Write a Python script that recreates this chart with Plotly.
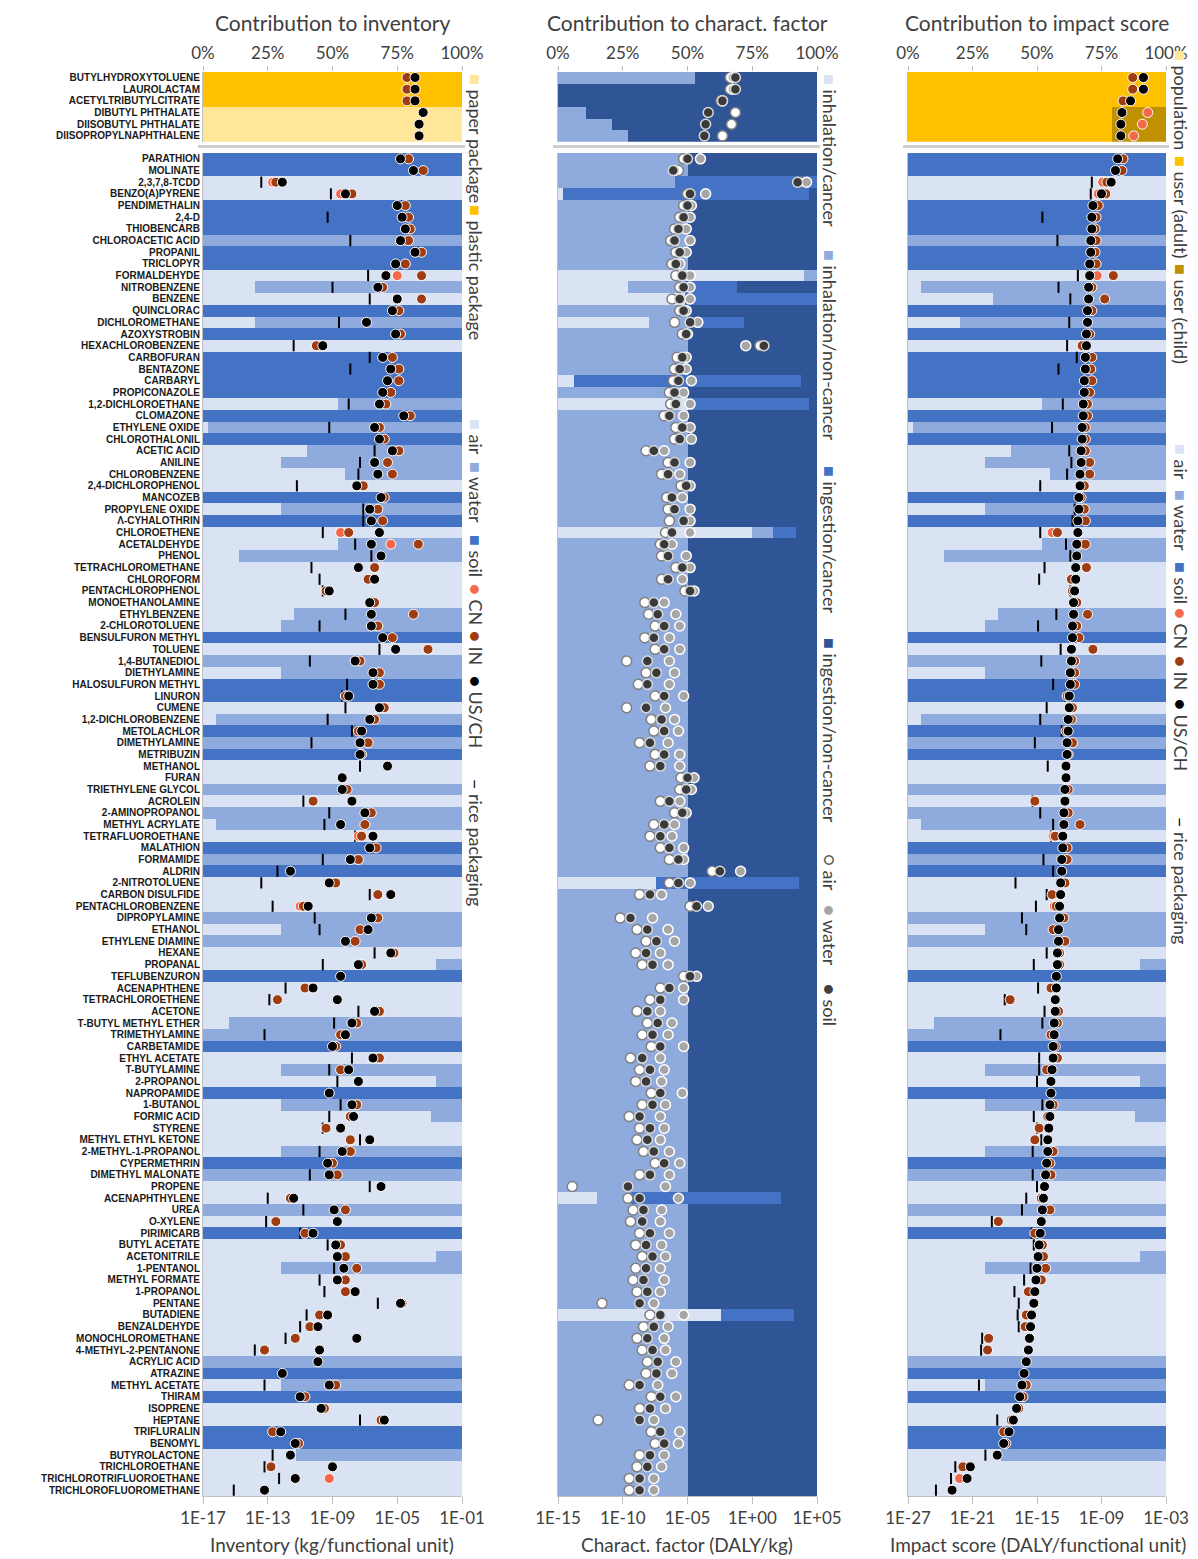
import plotly.graph_objects as go

# ---------------- DATA ----------------
names_top = ["BUTYLHYDROXYTOLUENE", "LAUROLACTAM", "ACETYLTRIBUTYLCITRATE",
             "DIBUTYL PHTHALATE", "DIISOBUTYL PHTHALATE", "DIISOPROPYLNAPHTHALENE"]

names = ["PARATHION", "MOLINATE", "2,3,7,8-TCDD", "BENZO(A)PYRENE", "PENDIMETHALIN", "2,4-D",
         "THIOBENCARB", "CHLOROACETIC ACID", "PROPANIL", "TRICLOPYR", "FORMALDEHYDE", "NITROBENZENE",
         "BENZENE", "QUINCLORAC", "DICHLOROMETHANE", "AZOXYSTROBIN", "HEXACHLOROBENZENE", "CARBOFURAN",
         "BENTAZONE", "CARBARYL", "PROPICONAZOLE", "1,2-DICHLOROETHANE", "CLOMAZONE", "ETHYLENE OXIDE",
         "CHLOROTHALONIL", "ACETIC ACID", "ANILINE", "CHLOROBENZENE", "2,4-DICHLOROPHENOL", "MANCOZEB",
         "PROPYLENE OXIDE", "Λ-CYHALOTHRIN", "CHLOROETHENE", "ACETALDEHYDE", "PHENOL",
         "TETRACHLOROMETHANE", "CHLOROFORM", "PENTACHLOROPHENOL", "MONOETHANOLAMINE", "ETHYLBENZENE",
         "2-CHLOROTOLUENE", "BENSULFURON METHYL", "TOLUENE", "1,4-BUTANEDIOL", "DIETHYLAMINE",
         "HALOSULFURON METHYL", "LINURON", "CUMENE", "1,2-DICHLOROBENZENE", "METOLACHLOR",
         "DIMETHYLAMINE", "METRIBUZIN", "METHANOL", "FURAN", "TRIETHYLENE GLYCOL", "ACROLEIN",
         "2-AMINOPROPANOL", "METHYL ACRYLATE", "TETRAFLUOROETHANE", "MALATHION", "FORMAMIDE", "ALDRIN",
         "2-NITROTOLUENE", "CARBON DISULFIDE", "PENTACHLOROBENZENE", "DIPROPYLAMINE", "ETHANOL",
         "ETHYLENE DIAMINE", "HEXANE", "PROPANAL", "TEFLUBENZURON", "ACENAPHTHENE", "TETRACHLOROETHENE",
         "ACETONE", "T-BUTYL METHYL ETHER", "TRIMETHYLAMINE", "CARBETAMIDE", "ETHYL ACETATE",
         "T-BUTYLAMINE", "2-PROPANOL", "NAPROPAMIDE", "1-BUTANOL", "FORMIC ACID", "STYRENE",
         "METHYL ETHYL KETONE", "2-METHYL-1-PROPANOL", "CYPERMETHRIN", "DIMETHYL MALONATE", "PROPENE",
         "ACENAPHTHYLENE", "UREA", "O-XYLENE", "PIRIMICARB", "BUTYL ACETATE", "ACETONITRILE",
         "1-PENTANOL", "METHYL FORMATE", "1-PROPANOL", "PENTANE", "BUTADIENE", "BENZALDEHYDE",
         "MONOCHLOROMETHANE", "4-METHYL-2-PENTANONE", "ACRYLIC ACID", "ATRAZINE", "METHYL ACETATE",
         "THIRAM", "ISOPRENE", "HEPTANE", "TRIFLURALIN", "BENOMYL", "BUTYROLACTONE", "TRICHLOROETHANE",
         "TRICHLOROTRIFLUOROETHANE", "TRICHLOROFLUOROMETHANE"]

# --- Panel 1: contribution to inventory (%), top section
inv_top_paper = [0, 0, 0, 100, 100, 100]
inv_top_plastic = [100, 100, 100, 0, 0, 0]
# inventory values, log10(kg/functional unit)
inv_top_in = [-4.4, -4.4, -4.4, None, None, None]
inv_top_us = [-3.9, -3.9, -3.9, -3.4, -3.65, -3.65]

# --- Panel 1: bottom section, compartments (%)
inv_air = [0, 0, 100, 100, 0, 0, 0, 0, 0, 0,
           100, 20, 100, 0, 20, 0, 100, 0, 0, 0,
           0, 52, 0, 2, 0, 40, 30, 55, 100, 0,
           30, 0, 100, 52, 14, 100, 100, 100, 100, 35,
           30, 0, 100, 0, 30, 0, 0, 100, 5, 0,
           0, 0, 100, 100, 0, 100, 0, 5, 100, 0,
           0, 0, 100, 100, 100, 0, 30, 0, 100, 90,
           0, 100, 100, 100, 10, 0, 0, 100, 30, 90,
           0, 30, 88, 100, 100, 30, 0, 0, 100, 100,
           0, 100, 0, 100, 90, 30, 100, 100, 100, 100,
           100, 100, 100, 0, 0, 30, 0, 100, 100, 0,
           0, 36, 100, 100, 100]
inv_water = [0, 0, 0, 0, 0, 0, 0, 100, 0, 0,
             0, 80, 0, 0, 80, 0, 0, 0, 0, 0,
             0, 48, 0, 98, 0, 60, 70, 45, 0, 0,
             70, 0, 0, 48, 86, 0, 0, 0, 0, 65,
             70, 0, 0, 100, 70, 0, 0, 0, 95, 0,
             100, 0, 0, 0, 100, 0, 100, 95, 0, 0,
             100, 0, 0, 0, 0, 100, 70, 100, 0, 10,
             0, 0, 0, 0, 90, 100, 0, 0, 70, 10,
             0, 70, 12, 0, 0, 70, 0, 100, 0, 0,
             100, 0, 0, 0, 10, 70, 0, 0, 0, 0,
             0, 0, 0, 100, 0, 70, 0, 0, 0, 0,
             0, 64, 0, 0, 0]
inv_soil = [100, 100, 0, 0, 100, 100, 100, 0, 100, 100,
            0, 0, 0, 100, 0, 100, 0, 100, 100, 100,
            100, 0, 100, 0, 100, 0, 0, 0, 0, 100,
            0, 100, 0, 0, 0, 0, 0, 0, 0, 0,
            0, 100, 0, 0, 0, 100, 100, 0, 0, 100,
            0, 100, 0, 0, 0, 0, 0, 0, 0, 100,
            0, 100, 0, 0, 0, 0, 0, 0, 0, 0,
            100, 0, 0, 0, 0, 0, 100, 0, 0, 0,
            100, 0, 0, 0, 0, 0, 100, 0, 0, 0,
            0, 0, 100, 0, 0, 0, 0, 0, 0, 0,
            0, 0, 0, 0, 100, 0, 100, 0, 0, 100,
            100, 0, 0, 0, 0]

# inventory, log10(kg/functional unit)
inv_us = [-4.8, -4.0, -12.1, -8.2, -5.0, -4.7, -4.5, -4.8, -3.9, -5.1,
          -5.7, -6.2, -5.0, -5.3, -6.9, -5.1, -9.6, -5.9, -5.4, -5.6,
          -5.9, -6.1, -4.6, -6.4, -6.1, -5.3, -6.4, -6.2, -7.5, -6.0,
          -6.7, -6.6, -6.1, -6.6, -6.0, -7.4, -6.4, -9.2, -6.7, -6.6,
          -6.6, -5.9, -5.1, -7.6, -6.5, -6.5, -8.0, -6.1, -6.7, -7.2,
          -7.3, -7.3, -5.6, -8.4, -8.4, -7.8, -7.0, -8.5, -6.5, -6.7,
          -7.9, -11.6, -9.2, -5.4, -10.5, -6.6, -6.8, -8.2, -5.4, -7.4,
          -8.5, -10.2, -8.7, -6.4, -7.8, -8.2, -9.0, -6.5, -8.0, -7.4,
          -9.2, -7.8, -7.7, -8.5, -6.7, -8.4, -9.3, -9.2, -6.0, -11.4,
          -8.9, -8.7, -10.2, -8.8, -8.7, -8.3, -8.7, -7.6, -4.8, -9.3,
          -9.9, -7.5, -9.8, -9.9, -12.1, -9.2, -11.0, -9.7, -5.8, -12.2,
          -11.3, -11.6, -9.0, -11.3, -13.2]
inv_in = [-4.3, -3.4, -12.5, -7.8, -4.5, -4.3, -4.2, -4.3, -3.5, -4.5,
          -3.5, -5.9, -3.5, -4.9, None, -4.8, -10.0, -5.3, -4.9, -4.9,
          -5.4, -5.7, -4.2, -6.1, -5.8, -4.9, -5.6, -5.3, -7.1, -5.8,
          -6.2, -5.9, -8.0, -3.7, None, -6.4, -6.8, -9.4, -6.4, -4.0,
          -6.2, -5.3, -3.1, -7.3, -6.1, -6.1, -8.2, -5.8, -6.4, -7.4,
          -6.8, -7.2, None, None, -8.1, -10.2, -6.6, -7.0, -7.2, -6.3,
          -7.4, None, -8.8, -6.2, -10.8, -6.2, -7.3, -7.6, -5.2, -7.2,
          None, -10.7, -12.4, -6.1, -7.5, -8.5, -8.8, -6.1, -8.5, None,
          None, -7.5, -7.9, -9.4, -7.9, -7.9, -9.0, -8.7, None, -11.6,
          -8.2, -12.5, -10.7, -8.5, -8.2, -7.5, -8.2, -8.2, -4.7, -9.8,
          -10.4, -11.3, -13.2, None, None, -8.8, -10.7, -9.5, -6.0, -12.7,
          -11.1, None, -12.8, None, None]
inv_cn = [None, None, -12.7, -8.5, None, None, None, None, None, None,
          -5.0, None, None, None, None, None, None, None, None, None,
          None, None, None, None, None, None, None, None, None, None,
          None, None, -8.5, -5.4, None, None, None, None, None, None,
          None, None, None, None, None, None, None, None, None, None,
          None, None, None, None, None, None, None, None, -7.4, None,
          None, None, None, None, -11.0, None, None, None, None, None,
          None, None, None, None, None, None, None, None, None, None,
          None, None, None, None, None, None, None, None, None, None,
          None, None, None, None, None, None, None, None, None, None,
          None, None, None, None, None, None, None, None, None, None,
          None, None, None, -9.2, None]
inv_rice = [None, None, -13.4, -9.1, None, -9.3, None, -7.9, None, None,
            -6.8, -9.0, -6.7, None, -8.6, None, -11.4, -6.7, -7.9, None,
            None, -8.0, None, -9.2, None, -6.4, -7.3, -7.4, -11.2, None,
            -7.1, -7.1, -9.6, -7.6, -6.6, -10.3, -9.8, -9.6, None, -8.2,
            -9.8, None, -6.1, -10.4, None, -8.1, -8.4, -8.2, -9.3, -7.8,
            -10.3, None, -7.3, None, None, -10.8, -9.2, -9.5, -7.6, None,
            -9.6, -12.4, -13.4, -6.7, -12.7, -10.1, -9.8, None, -6.4, -9.6,
            None, -11.9, -12.9, -7.4, -8.9, -13.2, None, -7.8, -9.2, -8.7,
            None, -8.5, -9.2, -9.6, -7.3, -9.8, None, -10.4, -6.7, -13.0,
            -10.8, -13.1, -11.0, -9.3, None, -8.9, -9.8, -9.5, -6.2, -10.6,
            -11.0, -11.9, -13.8, None, None, -13.2, None, None, -7.3, None,
            None, -12.7, -13.2, -12.3, -15.1]

# --- Panel 2: contribution to characterisation factor (%), top section
cf_top_inh_nc = [53, 0, 0, 11, 21, 27]
cf_top_ing_nc = [47, 100, 100, 89, 79, 73]
# characterisation factors, log10(DALY/kg)
cf_top_air = [-1.7, -1.7, -2.4, -1.3, -1.6, -2.3]
cf_top_water = [-1.5, -1.5, -2.3, None, None, None]
cf_top_soil = [-1.3, -1.3, -2.3, -3.4, -3.6, -3.7]

# --- Panel 2: bottom section (%)
cf_inh_c = [0, 0, 0, 2, 0, 0, 0, 0, 0, 0,
            95, 27, 49, 0, 35, 0, 0, 0, 0, 6,
            0, 50, 0, 0, 0, 0, 0, 0, 0, 0,
            0, 0, 75, 0, 0, 0, 0, 0, 0, 0,
            0, 0, 0, 0, 0, 0, 0, 0, 0, 0,
            0, 0, 0, 0, 0, 0, 0, 0, 0, 0,
            0, 0, 38, 0, 0, 0, 0, 0, 0, 0,
            0, 0, 0, 0, 0, 0, 0, 0, 0, 0,
            0, 0, 0, 0, 0, 0, 0, 0, 0, 15,
            0, 0, 0, 0, 0, 0, 0, 0, 0, 63,
            0, 0, 0, 0, 0, 0, 0, 0, 0, 0,
            0, 0, 0, 0, 0]
cf_inh_nc = [50, 50, 45, 0, 50, 50, 50, 50, 50, 50,
             5, 22, 0, 50, 15, 50, 50, 50, 50, 0,
             50, 0, 50, 50, 50, 50, 50, 50, 50, 50,
             50, 50, 8, 50, 50, 50, 50, 50, 50, 50,
             50, 50, 50, 50, 50, 50, 50, 50, 50, 50,
             50, 50, 50, 50, 50, 50, 50, 50, 50, 50,
             50, 50, 0, 50, 50, 50, 50, 50, 50, 50,
             50, 50, 50, 50, 50, 50, 50, 50, 50, 50,
             50, 50, 50, 50, 50, 50, 50, 50, 50, 13,
             50, 50, 50, 50, 50, 50, 50, 50, 50, 0,
             50, 50, 50, 50, 50, 50, 50, 50, 50, 50,
             50, 50, 50, 50, 50]
cf_ing_c = [0, 0, 55, 95, 0, 0, 0, 0, 0, 0,
            0, 20, 51, 0, 22, 0, 0, 0, 0, 88,
            0, 47, 0, 0, 0, 0, 0, 0, 0, 0,
            0, 0, 9, 0, 0, 0, 0, 0, 0, 0,
            0, 0, 0, 0, 0, 0, 0, 0, 0, 0,
            0, 0, 0, 0, 0, 0, 0, 0, 0, 0,
            0, 0, 55, 0, 0, 0, 0, 0, 0, 0,
            0, 0, 0, 0, 0, 0, 0, 0, 0, 0,
            0, 0, 0, 0, 0, 0, 0, 0, 0, 58,
            0, 0, 0, 0, 0, 0, 0, 0, 0, 28,
            0, 0, 0, 0, 0, 0, 0, 0, 0, 0,
            0, 0, 0, 0, 0]
cf_ing_nc = [50, 50, 0, 3, 50, 50, 50, 50, 50, 50,
             0, 31, 0, 50, 28, 50, 50, 50, 50, 6,
             50, 3, 50, 50, 50, 50, 50, 50, 50, 50,
             50, 50, 8, 50, 50, 50, 50, 50, 50, 50,
             50, 50, 50, 50, 50, 50, 50, 50, 50, 50,
             50, 50, 50, 50, 50, 50, 50, 50, 50, 50,
             50, 50, 7, 50, 50, 50, 50, 50, 50, 50,
             50, 50, 50, 50, 50, 50, 50, 50, 50, 50,
             50, 50, 50, 50, 50, 50, 50, 50, 50, 14,
             50, 50, 50, 50, 50, 50, 50, 50, 50, 9,
             50, 50, 50, 50, 50, 50, 50, 50, 50, 50,
             50, 50, 50, 50, 50]
# characterisation factors, log10(DALY/kg)
cf_soil = [-5.0, -6.1, 3.5, -4.8, -5.0, -5.3, -5.7, -6.0, -5.6, -5.9,
           -5.4, -5.3, -5.6, -5.3, -4.8, -5.1, 0.9, -5.4, -5.6, -5.7,
           -6.0, -5.9, -6.4, -5.4, -5.6, -7.6, -6.0, -6.5, -5.1, -6.2,
           -6.0, -5.3, -6.2, -6.8, -6.5, -5.4, -6.5, -4.8, -7.6, -7.3,
           -6.8, -7.6, -6.8, -8.1, -7.4, -8.1, -6.8, -8.2, -7.0, -6.8,
           -7.9, -6.8, -7.1, -5.0, -5.1, -6.4, -5.4, -6.8, -7.1, -6.4,
           -5.7, -2.5, -5.7, -7.9, -4.3, -9.4, -8.1, -7.4, -8.2, -7.7,
           -4.8, -6.4, -7.1, -8.1, -7.3, -7.7, -7.1, -8.5, -7.9, -8.2,
           -7.1, -7.7, -8.7, -7.9, -8.1, -7.6, -6.8, -7.9, -9.6, -8.7,
           -8.4, -8.5, -7.9, -8.2, -7.7, -8.2, -8.4, -8.1, -8.7, -7.1,
           -7.6, -8.1, -7.7, -7.3, -7.4, -8.7, -7.1, -7.9, -8.7, -7.1,
           -6.8, -7.9, -8.1, -8.7, -8.7]
cf_water = [-4.0, -6.0, 4.2, -3.6, -4.7, -4.8, -5.1, -4.8, -5.1, -5.6,
            -4.8, -4.8, -4.8, -5.1, -4.2, -5.0, -0.5, -5.1, -5.1, -4.7,
            -5.3, -4.8, -5.3, -4.8, -4.7, -6.8, -4.8, -5.6, -4.8, -5.4,
            -4.8, -4.8, -4.8, -6.2, -5.1, -4.8, -5.4, -4.5, -6.8, -5.9,
            -5.6, -6.4, -5.6, -6.4, -6.0, -6.4, -5.3, -6.7, -6.0, -5.7,
            -6.5, -5.6, -5.6, -4.5, -4.7, -5.6, -5.1, -6.0, -6.2, -5.3,
            -5.3, -0.9, -4.8, -7.0, -3.4, -7.7, -6.5, -6.0, -7.1, -6.5,
            -4.3, -5.3, -5.3, -7.1, -6.2, -6.5, -5.3, -7.1, -6.8, -7.0,
            -5.4, -6.7, -7.1, -6.8, -7.1, -6.4, -5.6, -6.4, -6.7, -5.7,
            -7.0, -7.1, -6.4, -7.0, -6.7, -7.1, -6.8, -7.1, -7.6, -5.3,
            -6.5, -6.8, -6.7, -5.9, -6.2, -7.3, -5.9, -6.7, -7.6, -5.6,
            -5.7, -6.8, -7.0, -7.6, -7.6]
cf_air = [-5.3, -5.7, 3.8, -5.0, -5.3, -5.6, -6.0, -6.3, -5.9, -6.2,
          -5.9, -5.6, -6.2, -5.6, -6.0, -5.4, 0.6, -5.8, -6.0, -6.1,
          -6.4, -6.3, -6.8, -5.9, -6.0, -8.2, -6.5, -7.0, -5.5, -6.6,
          -6.5, -6.4, -6.7, -7.1, -7.0, -5.9, -7.0, -5.2, -8.3, -8.0,
          -7.5, -8.3, -7.5, -9.7, -8.2, -8.8, -7.5, -9.7, -7.8, -7.6,
          -8.7, -7.5, -7.9, -5.5, -5.6, -7.1, -6.0, -7.6, -7.9, -7.1,
          -6.4, -3.1, -6.4, -8.7, -4.8, -10.2, -8.9, -8.2, -9.0, -8.5,
          -5.3, -7.1, -7.9, -8.9, -8.1, -8.5, -7.8, -9.4, -8.7, -9.0,
          -7.8, -8.5, -9.5, -8.7, -8.9, -8.4, -7.5, -8.7, -13.9, -9.6,
          -9.2, -9.4, -8.7, -9.0, -8.5, -9.0, -9.2, -8.9, -11.6, -7.9,
          -8.4, -8.9, -8.5, -8.1, -8.2, -9.5, -7.8, -8.7, -11.9, -7.8,
          -7.5, -8.7, -8.9, -9.5, -9.5]

# --- Panel 3: contribution to impact score (%), top section
is_top_pop = [0, 0, 0, 0, 0, 0]
is_top_adult = [100, 100, 100, 79, 79, 79]
is_top_child = [0, 0, 0, 21, 21, 21]
# impact score, log10(DALY/functional unit)
is_top_cn = [None, None, None, -4.7, -5.2, -6.0]
is_top_in = [-6.1, -6.1, -7.0, None, None, None]
is_top_us = [-5.1, -5.1, -6.3, -7.1, -7.2, -7.2]

# --- Panel 3: bottom section (%)
is_air = [0, 0, 100, 100, 0, 0, 0, 0, 0, 0,
          100, 5, 33, 0, 20, 0, 100, 0, 0, 0,
          0, 52, 0, 2, 0, 40, 30, 55, 100, 0,
          30, 0, 100, 52, 14, 100, 100, 100, 100, 35,
          30, 0, 100, 0, 30, 0, 0, 100, 5, 0,
          0, 0, 100, 100, 0, 100, 0, 5, 100, 0,
          0, 0, 100, 100, 100, 0, 30, 0, 100, 90,
          0, 100, 100, 100, 10, 0, 0, 100, 30, 90,
          0, 30, 88, 100, 100, 30, 0, 0, 100, 100,
          0, 100, 0, 100, 90, 30, 100, 100, 100, 100,
          100, 100, 100, 0, 0, 30, 0, 100, 100, 0,
          0, 36, 100, 100, 100]
is_water = [0, 0, 0, 0, 0, 0, 0, 100, 0, 0,
            0, 95, 67, 0, 80, 0, 0, 0, 0, 0,
            0, 48, 0, 98, 0, 60, 70, 45, 0, 0,
            70, 0, 0, 48, 86, 0, 0, 0, 0, 65,
            70, 0, 0, 100, 70, 0, 0, 0, 95, 0,
            100, 0, 0, 0, 100, 0, 100, 95, 0, 0,
            100, 0, 0, 0, 0, 100, 70, 100, 0, 10,
            0, 0, 0, 0, 90, 100, 0, 0, 70, 10,
            0, 70, 12, 0, 0, 70, 0, 100, 0, 0,
            100, 0, 0, 0, 10, 70, 0, 0, 0, 0,
            0, 0, 0, 100, 0, 70, 0, 0, 0, 0,
            0, 64, 0, 0, 0]
is_soil = list(inv_soil)
# impact score, log10(DALY/functional unit)
is_us = [-7.5, -7.7, -8.1, -9.0, -9.8, -9.9, -9.9, -10.0, -10.0, -10.1,
         -10.1, -10.2, -10.2, -10.3, -10.3, -10.4, -10.4, -10.5, -10.5, -10.6,
         -10.6, -10.7, -10.7, -10.8, -10.8, -10.9, -10.9, -11.0, -11.0, -11.1,
         -11.1, -11.2, -11.2, -11.3, -11.3, -11.4, -11.4, -11.5, -11.6, -11.6,
         -11.7, -11.7, -11.8, -11.8, -11.9, -11.9, -12.0, -12.0, -12.1, -12.1,
         -12.2, -12.2, -12.3, -12.3, -12.4, -12.4, -12.5, -12.5, -12.6, -12.6,
         -12.7, -12.7, -12.8, -12.8, -12.9, -12.9, -13.0, -13.0, -13.1, -13.1,
         -13.2, -13.2, -13.3, -13.3, -13.4, -13.4, -13.5, -13.5, -13.6, -13.7,
         -13.7, -13.8, -13.8, -13.9, -14.0, -14.0, -14.1, -14.2, -14.3, -14.4,
         -14.5, -14.6, -14.7, -14.8, -14.9, -15.0, -15.1, -15.2, -15.3, -15.5,
         -15.6, -15.7, -15.8, -16.0, -16.2, -16.4, -16.6, -16.9, -17.2, -17.6,
         -18.1, -18.7, -21.2, -21.5, -22.9]
is_in = [-7.0, -7.1, -8.5, -8.6, -9.3, -9.5, -9.6, -9.5, -9.6, -9.5,
         -7.9, -9.9, -8.7, -9.9, None, -10.1, -10.8, -9.9, -10.0, -9.9,
         -10.1, -10.3, -10.3, -10.5, -10.5, -10.5, -10.1, -10.1, -10.6, -10.9,
         -10.6, -10.5, -13.1, -10.5, None, -10.4, -11.8, -11.7, -11.3, -10.3,
         -11.3, -11.1, -9.8, -11.5, -11.5, -11.5, -12.2, -11.7, -11.8, -12.3,
         -11.7, -12.1, None, None, -12.1, -15.2, -12.1, -11.0, -13.3, -12.2,
         -12.2, None, -12.4, -13.6, -13.2, -12.5, -13.5, -12.4, -12.9, -12.9,
         None, -13.7, -17.5, -13.0, -13.1, -13.7, -13.3, -13.1, -14.1, None,
         None, -13.5, -14.0, -14.8, -15.2, -13.5, -13.8, -13.7, None, -14.6,
         -13.8, -18.6, -15.2, -14.5, -14.4, -14.2, -14.6, -15.8, -15.2, -16.0,
         -16.1, -19.5, -19.6, None, None, -16.0, -16.3, -16.7, -17.4, -18.1,
         -17.9, None, -21.9, None, None]
is_cn = [None, None, -8.9, -9.3, None, None, None, None, None, None,
         -9.4, None, None, None, None, None, None, None, None, None,
         None, None, None, None, None, None, None, None, None, None,
         None, None, -13.6, -11.0, None, None, None, None, None, None,
         None, None, None, None, None, None, None, None, None, None,
         None, None, None, None, None, None, None, None, -13.5, None,
         None, None, None, None, -13.4, None, None, None, None, None,
         None, None, None, None, None, None, None, None, None, None,
         None, None, None, None, None, None, None, None, None, None,
         None, None, None, None, None, None, None, None, None, None,
         None, None, None, None, None, None, None, None, None, None,
         None, None, None, -22.2, None]
is_rice = [None, None, -9.9, -10.0, None, -14.5, None, -13.1, None, None,
           -11.2, -13.0, -11.9, None, -12.0, None, -12.2, -11.3, -13.0, None,
           None, -12.6, None, -13.6, None, -12.0, -11.8, -12.2, -14.7, None,
           -11.5, -11.7, -14.7, -12.3, -11.9, -14.3, -14.8, -11.9, None, -13.2,
           -14.9, None, -12.8, -14.6, None, -13.5, -12.4, -14.1, -14.7, -12.7,
           -15.2, None, -14.0, None, None, -15.4, -14.7, -13.5, -13.7, None,
           -14.4, -13.5, -17.0, -14.1, -15.1, -16.4, -16.0, None, -14.1, -15.3,
           None, -14.9, -18.0, -14.3, -14.5, -18.4, None, -14.8, -14.8, -15.0,
           None, -14.5, -15.3, -15.0, -14.6, -15.4, None, -15.4, -15.0, -16.0,
           -16.4, -19.2, -15.5, -15.3, None, -15.6, -16.2, -17.1, -16.7, -16.8,
           -16.7, -20.1, -20.2, None, None, -20.4, None, None, -18.7, None,
           None, -19.8, -22.6, -23.0, -24.4]

# ---------------- STYLE / LAYOUT ----------------
OFF = 8                      # page body margin of the html page
W, H = 1198 - OFF, 1559 - OFF
C_AIR, C_WATER, C_SOIL, C_DARK = "#dae3f3", "#8faadc", "#4472c4", "#2f5597"
C_PAPER, C_PLASTIC, C_CHILD = "#ffe699", "#ffc000", "#bf9000"
C_CN, C_IN, C_US = "#f4694a", "#9e3d12", "#000000"
GRID = "#bfbfbf"
TXT = "#404040"
FONT = "Lato, Open Sans, sans-serif"

panels_px = [(203, 462), (558, 817), (908, 1166)]
top_px = (71.7, 141.7)
bot_px = (153.0, 1496.0)
log_ranges = [(-17, -1), (-15, 5), (-27, -3)]
log_ticks = [[-17, -13, -9, -5, -1], [-15, -10, -5, 0, 5], [-27, -21, -15, -9, -3]]


def fx(px):
    return (px - OFF) / W


def fy(py):
    return 1 - (py - OFF) / H


def pw(lst):
    return [None if v is None else 10 ** v for v in lst]


rows = list(range(len(names)))
rows_top = list(range(len(names_top)))

fig = go.Figure()


def ax(p, k):
    n = 4 * p + k
    return "x" if n == 1 else f"x{n}"


def ay(p, k):
    n = 2 * p + k
    return "y" if n == 1 else f"y{n}"


def add_bar(p, k_x, k_y, vals, ys, color):
    fig.add_trace(go.Bar(x=vals, y=ys, orientation="h", xaxis=ax(p, k_x), yaxis=ay(p, k_y),
                         marker=dict(color=color, line=dict(width=0)), width=1.0,
                         showlegend=False, hoverinfo="skip"))


def add_pts(p, k_x, k_y, vals, ys, color, outline="white", size=10, symbol="circle", lw=1):
    fig.add_trace(go.Scatter(x=pw(vals), y=ys, mode="markers", xaxis=ax(p, k_x), yaxis=ay(p, k_y),
                             marker=dict(color=color, size=size, symbol=symbol,
                                         line=dict(color=outline, width=lw)),
                             showlegend=False, cliponaxis=False, hoverinfo="skip"))


def add_rice(p, k_x, k_y, vals, ys):
    fig.add_trace(go.Scatter(x=pw(vals), y=ys, mode="markers", xaxis=ax(p, k_x), yaxis=ay(p, k_y),
                             marker=dict(symbol="line-ns", size=8, line=dict(color="black", width=2)),
                             showlegend=False, hoverinfo="skip"))


# Panel 1
add_bar(0, 3, 2, inv_top_paper, rows_top, C_PAPER)
add_bar(0, 3, 2, inv_top_plastic, rows_top, C_PLASTIC)
add_pts(0, 4, 2, inv_top_in, rows_top, C_IN)
add_pts(0, 4, 2, inv_top_us, rows_top, C_US)
add_bar(0, 1, 1, inv_air, rows, C_AIR)
add_bar(0, 1, 1, inv_water, rows, C_WATER)
add_bar(0, 1, 1, inv_soil, rows, C_SOIL)
add_rice(0, 2, 1, inv_rice, rows)
add_pts(0, 2, 1, inv_cn, rows, C_CN)
add_pts(0, 2, 1, inv_in, rows, C_IN)
add_pts(0, 2, 1, inv_us, rows, C_US)

# Panel 2
add_bar(1, 3, 2, cf_top_inh_nc, rows_top, C_WATER)
add_bar(1, 3, 2, cf_top_ing_nc, rows_top, C_DARK)
add_pts(1, 4, 2, cf_top_air, rows_top, "white", outline="#7f7f7f", lw=1.5)
add_pts(1, 4, 2, cf_top_water, rows_top, "#a6a6a6", outline="white", lw=1.5)
add_pts(1, 4, 2, cf_top_soil, rows_top, "#3a3a3a", outline="#d9d9d9", lw=1.5)
add_bar(1, 1, 1, cf_inh_c, rows, C_AIR)
add_bar(1, 1, 1, cf_inh_nc, rows, C_WATER)
add_bar(1, 1, 1, cf_ing_c, rows, C_SOIL)
add_bar(1, 1, 1, cf_ing_nc, rows, C_DARK)
add_pts(1, 2, 1, cf_air, rows, "white", outline="#7f7f7f", lw=1.5)
add_pts(1, 2, 1, cf_water, rows, "#a6a6a6", outline="white", lw=1.5)
add_pts(1, 2, 1, cf_soil, rows, "#3a3a3a", outline="#d9d9d9", lw=1.5)

# Panel 3
add_bar(2, 3, 2, is_top_pop, rows_top, C_PAPER)
add_bar(2, 3, 2, is_top_adult, rows_top, C_PLASTIC)
add_bar(2, 3, 2, is_top_child, rows_top, C_CHILD)
add_pts(2, 4, 2, is_top_cn, rows_top, C_CN)
add_pts(2, 4, 2, is_top_in, rows_top, C_IN)
add_pts(2, 4, 2, is_top_us, rows_top, C_US)
add_bar(2, 1, 1, is_air, rows, C_AIR)
add_bar(2, 1, 1, is_water, rows, C_WATER)
add_bar(2, 1, 1, is_soil, rows, C_SOIL)
add_rice(2, 2, 1, is_rice, rows)
add_pts(2, 2, 1, is_cn, rows, C_CN)
add_pts(2, 2, 1, is_in, rows, C_IN)
add_pts(2, 2, 1, is_us, rows, C_US)

layout = dict(width=W, height=H, margin=dict(l=0, r=0, t=0, b=0, pad=0, autoexpand=False),
              paper_bgcolor="white", plot_bgcolor="white",
              barmode="stack", bargap=0, showlegend=False,
              font=dict(family=FONT, color=TXT))

tickfont = dict(family=FONT, size=17, color=TXT)
lab_font = dict(family="Liberation Sans Narrow, Liberation Sans, Arial", size=10, color="#1a1a1a",
                weight="bold")

for p in range(3):
    x0, x1 = panels_px[p]
    dom = [fx(x0), fx(x1)]
    lo, hi = log_ranges[p]
    layout["xaxis" if p == 0 else f"xaxis{4*p+1}"] = dict(
        domain=dom, range=[0, 100], anchor=ay(p, 1), visible=False, fixedrange=True,
        automargin=False)
    layout[f"xaxis{4*p+2}"] = dict(
        type="log", range=[lo, hi], overlaying=ax(p, 1), anchor=ay(p, 1), side="bottom",
        tickvals=[10 ** t for t in log_ticks[p]],
        ticktext=[("1E-%02d" % -t) if t < 0 else ("1E+%02d" % t) for t in log_ticks[p]],
        ticks="outside", ticklen=7, tickcolor=GRID, showline=True, linecolor=GRID, linewidth=1,
        showgrid=False, zeroline=False, tickfont=tickfont, automargin=False)
    layout[f"xaxis{4*p+3}"] = dict(
        domain=dom, range=[0, 100], anchor=ay(p, 2), side="top",
        tickvals=[0, 25, 50, 75, 100], ticktext=["0%", "25%", "50%", "75%", "100%"],
        ticks="outside", ticklen=5, tickcolor=GRID, showline=False, showgrid=False,
        zeroline=False, tickfont=tickfont, automargin=False)
    layout[f"xaxis{4*p+4}"] = dict(
        type="log", range=[lo, hi], overlaying=ax(p, 3), anchor=ay(p, 2), visible=False,
        automargin=False)
    layout["yaxis" if p == 0 else f"yaxis{2*p+1}"] = dict(
        domain=[fy(bot_px[1]), fy(bot_px[0])], range=[len(names) - 0.5, -0.5],
        anchor=ax(p, 1), tickvals=rows, ticktext=names if p == 0 else None,
        showticklabels=(p == 0), ticks="", showline=True, linecolor=GRID,
        showgrid=False, zeroline=False, tickfont=lab_font, fixedrange=True, automargin=False)
    layout[f"yaxis{2*p+2}"] = dict(
        domain=[fy(top_px[1]), fy(top_px[0])], range=[len(names_top) - 0.5, -0.5],
        anchor=ax(p, 3), tickvals=rows_top, ticktext=names_top if p == 0 else None,
        showticklabels=(p == 0), ticks="", showline=True, linecolor=GRID,
        showgrid=False, zeroline=False, tickfont=lab_font, fixedrange=True, automargin=False)

fig.update_layout(**layout)

# separator lines between top and bottom sections
for p in range(3):
    x0, x1 = panels_px[p]
    fig.add_shape(type="line", xref="paper", yref="paper", x0=fx(x0 - 5), x1=fx(x1 + 3),
                  y0=fy(146.5), y1=fy(146.5), line=dict(color="#d0cece", width=3))

# titles
titles_top = ["Contribution to inventory", "Contribution to charact. factor",
              "Contribution to impact score"]
titles_bot = ["Inventory (kg/functional unit)", "Charact. factor (DALY/kg)",
              "Impact score (DALY/functional unit)"]
bot_centers = [332, 687, 1038]
for p in range(3):
    x0, x1 = panels_px[p]
    fig.add_annotation(x=fx((x0 + x1) / 2), y=fy(22), xref="paper", yref="paper",
                       text=titles_top[p], showarrow=False, xanchor="center", yanchor="middle",
                       font=dict(family=FONT, size=21, color=TXT))
    fig.add_annotation(x=fx(bot_centers[p]), y=fy(1544), xref="paper",
                       yref="paper", text=titles_bot[p], showarrow=False, xanchor="center",
                       yanchor="middle", font=dict(family=FONT, size=19, color=TXT))

# rotated legends
legend_items = [
    (476, [("■", C_PAPER, "paper package", 138), ("■", C_PLASTIC, "plastic package", 272),
           ("■", C_AIR, "air", 437), ("■", C_WATER, "water", 492), ("■", C_SOIL, "soil", 556),
           ("●", C_CN, "CN", 604), ("●", C_IN, "IN", 648), ("●", C_US, "US/CH", 712),
           ("−", "black", "rice packaging", 842)]),
    (830, [("■", C_AIR, "inhalation/cancer", 150), ("■", C_WATER, "inhalation/non-cancer", 345),
           ("■", C_SOIL, "ingestion/cancer", 540), ("■", C_DARK, "ingestion/non-cancer", 730),
           ("○", "#595959", "air", 872), ("●", "#a6a6a6", "water", 935), ("●", "#404040", "soil", 1005)]),
    (1181, [("■", C_PAPER, "population", 100), ("■", C_PLASTIC, "user (adult)", 207),
            ("■", C_CHILD, "user (child)", 314), ("■", C_AIR, "air", 462), ("■", C_WATER, "water", 520),
            ("■", C_SOIL, "soil", 583), ("●", C_CN, "CN", 628), ("●", C_IN, "IN", 673),
            ("●", C_US, "US/CH", 735), ("−", "black", "rice packaging", 880)]),
]
for xc, items in legend_items:
    for sym, col, lab, yc in items:
        fig.add_annotation(x=fx(xc), y=fy(yc), xref="paper", yref="paper", textangle=90,
                           text=f'<span style="color:{col}">{sym}</span> {lab}', showarrow=False,
                           xanchor="center", yanchor="middle",
                           font=dict(family=FONT, size=18, color=TXT))

fig.write_html("out.html")
